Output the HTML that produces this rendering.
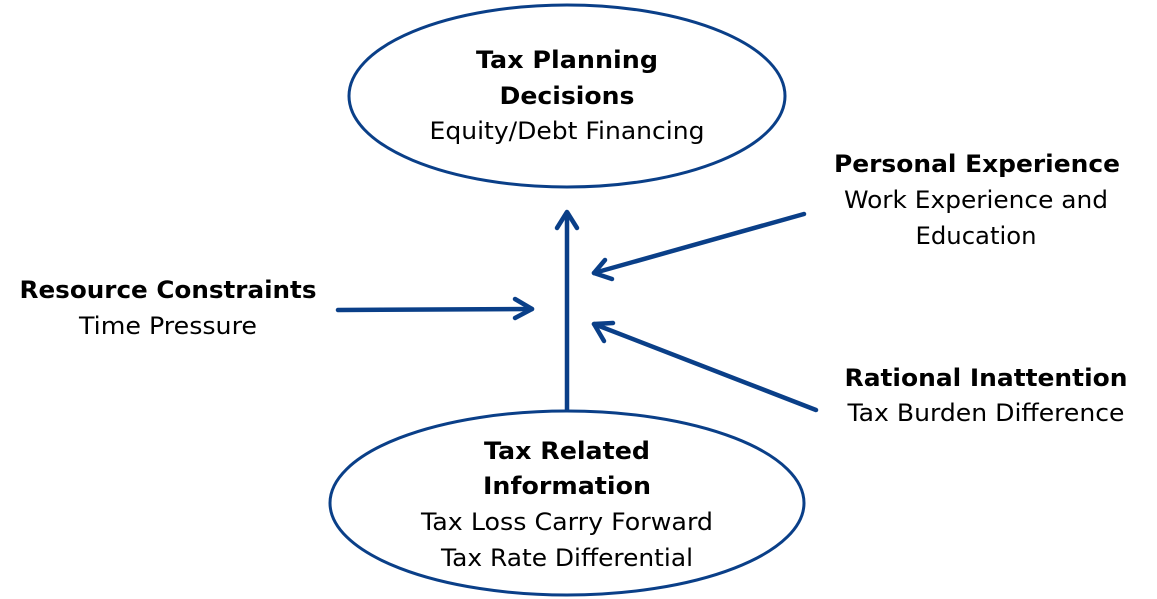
<!DOCTYPE html>
<html><head><meta charset="utf-8"><style>
html,body{margin:0;padding:0;background:#fff;}
svg{display:block;}
text{font-family:"DejaVu Sans","Liberation Sans",sans-serif;font-size:24px;fill:#000;}
.b{font-weight:bold;}
</style></head><body>
<svg width="1157" height="599" viewBox="0 0 1157 599" xmlns="http://www.w3.org/2000/svg">
<g fill="none" stroke="#0a3f88" stroke-width="4.5" stroke-linecap="round" stroke-linejoin="round">
<ellipse cx="567" cy="96" rx="218" ry="91" stroke-width="3"/>
<ellipse cx="567" cy="503" rx="237" ry="92" stroke-width="3"/>
<line x1="567" y1="410" x2="567" y2="214"/>
<polyline points="557,228 567,212 577,228"/>
<line x1="338" y1="310" x2="532" y2="309"/>
<polyline points="515,299 532,309 515,318"/>
<line x1="804" y1="214" x2="594" y2="273"/>
<polyline points="605,260 594,273 612,279"/>
<line x1="816" y1="410" x2="594" y2="324"/>
<polyline points="613,323 594,324 604,341"/>
</g>
<g text-anchor="middle">
<text class="b" x="567" y="68" textLength="182" lengthAdjust="spacingAndGlyphs">Tax Planning</text>
<text class="b" x="567" y="104" textLength="135" lengthAdjust="spacingAndGlyphs">Decisions</text>
<text x="567" y="139" textLength="275" lengthAdjust="spacingAndGlyphs">Equity/Debt Financing</text>
<text class="b" x="977" y="172" textLength="286" lengthAdjust="spacingAndGlyphs">Personal Experience</text>
<text x="976" y="208" textLength="264" lengthAdjust="spacingAndGlyphs">Work Experience and</text>
<text x="976" y="244" textLength="121" lengthAdjust="spacingAndGlyphs">Education</text>
<text class="b" x="168" y="298" textLength="297" lengthAdjust="spacingAndGlyphs">Resource Constraints</text>
<text x="168" y="334" textLength="178" lengthAdjust="spacingAndGlyphs">Time Pressure</text>
<text class="b" x="986" y="386" textLength="283" lengthAdjust="spacingAndGlyphs">Rational Inattention</text>
<text x="986" y="421" textLength="277" lengthAdjust="spacingAndGlyphs">Tax Burden Difference</text>
<text class="b" x="567" y="459" textLength="166" lengthAdjust="spacingAndGlyphs">Tax Related</text>
<text class="b" x="567" y="494" textLength="168" lengthAdjust="spacingAndGlyphs">Information</text>
<text x="567" y="530" textLength="292" lengthAdjust="spacingAndGlyphs">Tax Loss Carry Forward</text>
<text x="567" y="566" textLength="252" lengthAdjust="spacingAndGlyphs">Tax Rate Differential</text>
</g>
</svg>
</body></html>
